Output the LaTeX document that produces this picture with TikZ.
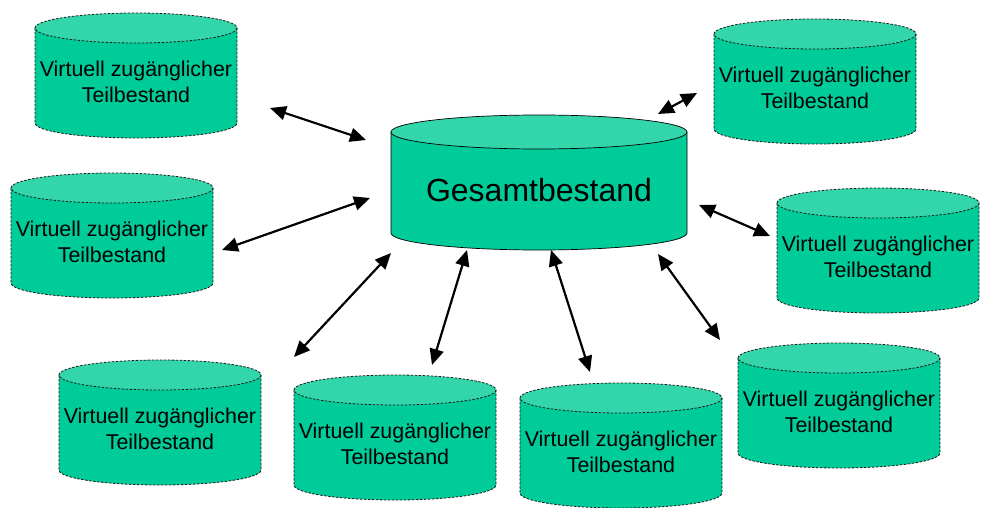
\documentclass[tikz,border=0pt]{standalone}
\usepackage{fontspec}
\setmainfont{Liberation Sans}
\usetikzlibrary{arrows.meta}
\definecolor{cylbody}{RGB}{0,204,153}
\definecolor{cyltop}{RGB}{51,214,170}
\tikzset{
  cylline/.style={draw=black!90, line width=0.8pt, dash pattern=on 2.5pt off 1.5pt},
  mainline/.style={draw=black, line width=0.7pt},
  smalltext/.style={align=center, inner sep=0pt, font=\fontsize{21.4}{25.5}\selectfont},
  bigtext/.style={inner sep=0pt, font=\fontsize{32}{38}\selectfont},
  arr/.style={{Triangle[length=16pt,width=14pt]}-{Triangle[length=16pt,width=14pt]}, line width=2.2pt}
}
\newcommand\smallcyl[3]{%
  \fill[cylbody] (#2-101,#3) -- (#2-101,#3+95) arc[start angle=180,end angle=0,x radius=101,y radius=15] -- (#2+101,#3) -- cycle;
  \fill[cyltop] (#2,#3) ellipse[x radius=101,y radius=15];
  \draw[cylline] (#2-101,#3) -- (#2-101,#3+95) arc[start angle=180,end angle=0,x radius=101,y radius=15] -- (#2+101,#3);
  \draw[cylline] (#2,#3) ellipse[x radius=101,y radius=15];
  \node[smalltext] (#1) at (#2,#3+54) {Virtuell zugänglicher\\Teilbestand};
}
\begin{document}
\begin{tikzpicture}[x=1pt,y=-1pt]
\useasboundingbox (0,0) rectangle (982,508);
% central cylinder
\fill[cylbody] (391,132) -- (391,233) arc[start angle=180,end angle=0,x radius=148,y radius=17] -- (687,132) -- cycle;
\fill[cyltop] (539,132) ellipse[x radius=148,y radius=17];
\draw[mainline] (391,132) -- (391,233) arc[start angle=180,end angle=0,x radius=148,y radius=17] -- (687,132);
\draw[mainline] (539,132) ellipse[x radius=148,y radius=17];
\node[bigtext] (g) at (539,190) {Gesamtbestand};
% small cylinders
\smallcyl{c1}{136}{28}
\smallcyl{c2}{815}{34}
\smallcyl{c3}{112}{188}
\smallcyl{c4}{878}{203}
\smallcyl{c5}{160}{375}
\smallcyl{c6}{395}{390}
\smallcyl{c7}{621}{398}
\smallcyl{c8}{839}{358}
% arrow end points
\coordinate (a1s) at (270,108); \coordinate (a1e) at (366,140);
\coordinate (a2s) at (658,114); \coordinate (a2e) at (697,93);
\coordinate (a3s) at (222,250); \coordinate (a3e) at (370,198);
\coordinate (a4s) at (699,205); \coordinate (a4e) at (770,236);
\coordinate (a5s) at (391,253); \coordinate (a5e) at (294,357);
\coordinate (a6s) at (467,250); \coordinate (a6e) at (432,365);
\coordinate (a7s) at (551,250); \coordinate (a7e) at (590,372);
\coordinate (a8s) at (658,254); \coordinate (a8e) at (720,340);
\foreach \i in {1,...,8} {\draw[arr] (a\i s) -- (a\i e);}
\end{tikzpicture}
\end{document}
